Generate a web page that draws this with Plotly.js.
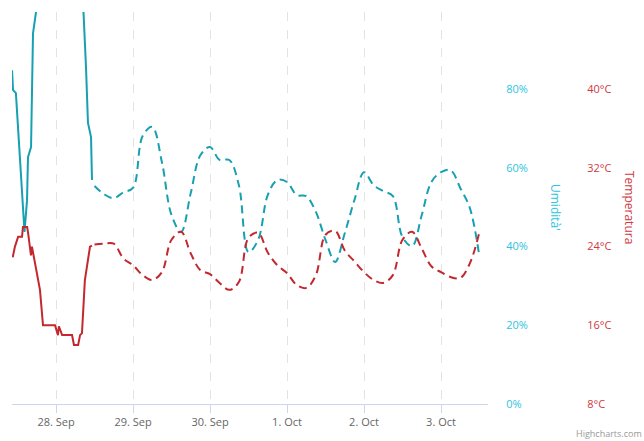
<!DOCTYPE html>
<html>
<head>
<meta charset="utf-8">
<script src="https://cdn.plot.ly/plotly-3.0.1.min.js"></script>
<style>html,body{margin:0;padding:0;background:#fff;}#chart{width:644px;height:441px;}</style>
</head>
<body>
<div id="chart"></div>
<script>
// Observed humidity (solid)
const humObsTimes = ["2023-09-27 10:18","2023-09-27 10:36","2023-09-27 11:30","2023-09-27 13:24","2023-09-27 14:11","2023-09-27 14:58","2023-09-27 15:16","2023-09-27 16:13","2023-09-27 16:50","2023-09-27 17:46","2023-09-27 18:05","2023-09-28 08:06","2023-09-28 08:34","2023-09-28 09:21","2023-09-28 09:58","2023-09-28 10:55","2023-09-28 11:13"];
const humObs = [84.8,79.8,79.0,51.8,43.7,51.8,62.7,65.3,94.2,99.6,100,100,99.6,85.6,71.4,67.8,56.9];

// Observed temperature (solid)
const tempObsTimes = ["2023-09-27 10:30","2023-09-27 11:12","2023-09-27 12:12","2023-09-27 13:24","2023-09-27 13:42","2023-09-27 15:00","2023-09-27 15:18","2023-09-27 16:12","2023-09-27 16:30","2023-09-27 17:06","2023-09-27 19:00","2023-09-27 19:57","2023-09-27 23:42","2023-09-28 00:36","2023-09-28 00:54","2023-09-28 01:54","2023-09-28 05:00","2023-09-28 05:36","2023-09-28 06:54","2023-09-28 07:30","2023-09-28 08:06","2023-09-28 09:00","2023-09-28 10:36","2023-09-28 11:12"];
const tempObs = [22.9,24.0,25.0,25.0,26.0,26.0,25.4,23.1,24.0,22.9,19.6,16.0,16.0,15.0,15.9,15.0,15.0,14.0,14.0,15.0,15.2,20.6,24.0,24.1];

// Forecast (dashed), every 3 hours
const fcTimes = [
 "2023-09-28 12:00","2023-09-28 15:00","2023-09-28 18:00","2023-09-28 21:00",
 "2023-09-29 00:00","2023-09-29 03:00","2023-09-29 06:00","2023-09-29 09:00","2023-09-29 12:00","2023-09-29 15:00","2023-09-29 18:00","2023-09-29 21:00",
 "2023-09-30 00:00","2023-09-30 03:00","2023-09-30 06:00","2023-09-30 09:00","2023-09-30 12:00","2023-09-30 15:00","2023-09-30 18:00","2023-09-30 21:00",
 "2023-10-01 00:00","2023-10-01 03:00","2023-10-01 06:00","2023-10-01 09:00","2023-10-01 12:00","2023-10-01 15:00","2023-10-01 18:00","2023-10-01 21:00",
 "2023-10-02 00:00","2023-10-02 03:00","2023-10-02 06:00","2023-10-02 09:00","2023-10-02 12:00","2023-10-02 15:00","2023-10-02 18:00","2023-10-02 21:00",
 "2023-10-03 00:00","2023-10-03 03:00","2023-10-03 06:00","2023-10-03 09:00","2023-10-03 12:00"];
const humFc = [55.4,53.3,52.3,53.8,
 54.9,68.1,70.4,61.5,48.0,43.7,53.6,63.2,
 65.3,62.0,62.0,55.6,38.6,41.7,53.1,56.9,
 56.4,53.1,52.8,48.8,41.7,36.1,43.4,51.8,
 58.9,55.6,54.1,52.8,42.4,40.1,48.0,56.4,
 58.9,59.4,54.9,49.8,37.3];
const tempFc = [24.2,24.3,24.3,22.8,
 22.1,21.1,20.6,21.4,24.7,25.5,23.3,21.6,
 21.2,20.3,19.6,20.4,24.9,25.4,23.4,22.1,
 21.3,20.1,19.8,21.1,25.2,25.6,23.6,22.5,
 21.4,20.6,20.3,21.1,24.7,25.5,23.8,22.0,
 21.4,20.9,20.8,22.3,25.5];

const humTicks = [0,20,40,60,80];
const tempTicks = [8,16,24,32,40];
const humTickText = humTicks.map(v => v + "%");
const tempTickText = tempTicks.map(v => v + "°C");

const humColor = "#17a0b2", humLabel = "#2ec4de";
const tempColor = "#c2282e", tempLabel = "#cf3a3f";
const FONT = "Open Sans, Arial, sans-serif";

const traces = [
  {x: humObsTimes, y: humObs, yaxis: "y", type: "scatter", mode: "lines",
   line: {color: humColor, width: 2}, hoverinfo: "skip"},
  {x: fcTimes, y: humFc, yaxis: "y", type: "scatter", mode: "lines",
   line: {color: humColor, width: 2, dash: "8px,5px", shape: "spline", smoothing: 1}, hoverinfo: "skip"},
  {x: tempObsTimes, y: tempObs, yaxis: "y2", type: "scatter", mode: "lines",
   line: {color: tempColor, width: 2}, hoverinfo: "skip"},
  {x: fcTimes, y: tempFc, yaxis: "y2", type: "scatter", mode: "lines",
   line: {color: tempColor, width: 2, dash: "8px,5px", shape: "spline", smoothing: 1}, hoverinfo: "skip"}
];

const plotW = 644 - 12;
const plotH = 404 - 12;
const layout = {
  width: 644, height: 441,
  margin: {l: 12, r: 0, t: 12, b: 37, pad: 0},
  paper_bgcolor: "#fff", plot_bgcolor: "#fff",
  showlegend: false,
  font: {family: FONT, size: 11, color: "#666"},
  xaxis: {
    type: "date", domain: [0, (488 - 12) / plotW],
    range: ["2023-09-27 10:17", "2023-10-03 14:39"],
    tick0: "2023-09-28", dtick: 86400000, tickformat: "%-d. %b",
    showgrid: true, gridcolor: "#e3e3e3", griddash: "dash", gridwidth: 1,
    showline: true, linecolor: "#ccd6eb", linewidth: 1,
    ticks: "outside", ticklen: 8, tickcolor: "#ccd6eb",
    tickfont: {family: FONT, size: 11, color: "#666"},
    zeroline: false, fixedrange: true
  },
  yaxis: {
    side: "right", anchor: "x", range: [0, 99.6],
    tickvals: humTicks, ticktext: humTickText,
    tickfont: {family: FONT, size: 11, color: humLabel},
    ticks: "outside", ticklen: 15, tickcolor: "rgba(0,0,0,0)",
    showgrid: false, zeroline: false, showline: false, fixedrange: true
  },
  yaxis2: {
    overlaying: "y", side: "right", anchor: "free",
    position: (582 - 12) / plotW, range: [8, 47.84],
    tickvals: tempTicks, ticktext: tempTickText,
    tickfont: {family: FONT, size: 11, color: tempLabel},
    ticks: "outside", ticklen: 2, tickcolor: "rgba(0,0,0,0)",
    showgrid: false, zeroline: false, showline: false, fixedrange: true
  },
  annotations: [
    {text: "Umidità'", xref: "paper", yref: "paper", x: (556 - 12) / plotW, y: (404 - 207) / plotH,
     xanchor: "center", yanchor: "middle", textangle: 90, showarrow: false,
     font: {family: FONT, size: 12, color: humLabel}},
    {text: "Temperatura", xref: "paper", yref: "paper", x: (630 - 12) / plotW, y: (404 - 207) / plotH,
     xanchor: "center", yanchor: "middle", textangle: 90, showarrow: false,
     font: {family: FONT, size: 12, color: tempLabel}},
    {text: "Highcharts.com", xref: "paper", yref: "paper", x: (643 - 12) / plotW, y: (404 - 441) / plotH,
     xanchor: "right", yanchor: "bottom", showarrow: false, borderpad: 0,
     font: {family: FONT, size: 9, color: "#999"}}
  ]
};

Plotly.newPlot("chart", traces, layout, {displayModeBar: false, staticPlot: true});
</script>
</body>
</html>
